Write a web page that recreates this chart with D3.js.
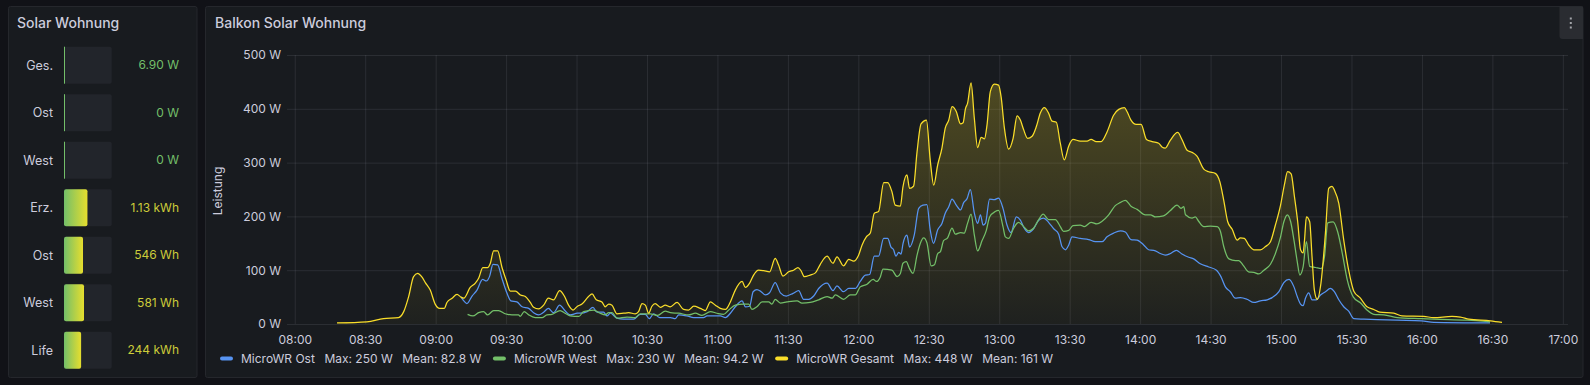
<!DOCTYPE html>
<html><head><meta charset="utf-8">
<script src="https://cdn.jsdelivr.net/npm/d3@7"></script>
<style>
html,body{margin:0;padding:0;background:#111217;overflow:hidden;}
svg{display:block;font-family:Inter,"Noto Sans",sans-serif;}
</style></head><body>
<svg id="c" width="1590" height="385"></svg>
<script>
// ---------- DATA ----------
const statLabels = ["Ges.", "Ost", "West", "Erz.", "Ost", "West", "Life"];
const statTexts  = ["6.90 W", "0 W", "0 W", "1.13 kWh", "546 Wh", "581 Wh", "244 kWh"];
const statValues = [6.9, 0, 0, 1.13, 546, 581, 244];
const statMax    = [800, 800, 800, 2.3, 1370, 1385, 680];

const xTickLabels = ["08:00","08:30","09:00","09:30","10:00","10:30","11:00","11:30","12:00","12:30","13:00","13:30","14:00","14:30","15:00","15:30","16:00","16:30","17:00"];
const yTickValues = [0,100,200,300,400,500];
const timeDomain = ["07:56.7", "17:02.2"];

const seriesNames = ["MicroWR Ost", "MicroWR West", "MicroWR Gesamt"];
const seriesMax   = ["250 W", "230 W", "448 W"];
const seriesMean  = ["82.8 W", "94.2 W", "161 W"];

// times as "HH:MM.m" (minutes with decimal), values in W
const ost = [["09:10.8",50],["09:12.0",43],["09:13.3",38],["09:15.5",52],["09:17.6",63],["09:20.0",83],["09:21.6",80],["09:23.0",89],["09:24.4",111],["09:26.4",110],["09:28.2",85],["09:30.4",57],["09:32.0",43],["09:34.6",41],["09:36.8",32],["09:39.6",29],["09:41.7",21],["09:43.8",17],["09:46.0",22],["09:48.0",29],["09:50.2",21],["09:52.8",35],["09:55.2",24],["09:57.3",17],["10:00.4",20],["10:01.6",20],["10:04.5",23],["10:07.0",31],["10:08.7",22],["10:11.5",22],["10:13.0",15],["10:14.4",20],["10:17.2",11],["10:20.0",9],["10:24.3",9],["10:27.1",18],["10:29.3",18],["10:31.0",10],["10:32.8",19],["10:35.4",12],["10:40.0",12],["10:42.0",10],["10:43.5",17],["10:47.0",15],["10:49.9",12],["10:54.1",12],["10:55.6",15],["11:01.2",15],["11:03.4",12],["11:05.5",20],["11:07.6",32],["11:10.5",43],["11:11.9",32],["11:13.7",33],["11:15.2",60],["11:16.8",64],["11:18.6",60],["11:20.4",54],["11:22.2",58],["11:24.6",77],["11:26.8",58],["11:29.3",52],["11:32.2",57],["11:34.6",62],["11:36.7",46],["11:38.9",46],["11:41.0",52],["11:43.1",66],["11:46.7",76],["11:49.2",62],["11:50.9",71],["11:53.7",60],["11:55.9",66],["11:58.7",66],["12:00.8",79],["12:03.0",91],["12:04.8",92],["12:06.8",126],["12:08.6",126],["12:10.8",159],["12:12.5",159],["12:13.9",143],["12:15.0",138],["12:16.0",126],["12:17.2",133],["12:18.2",130],["12:19.0",149],["12:20.7",165],["12:21.8",143],["12:23.8",165],["12:25.7",215],["12:27.5",221],["12:29.2",222],["12:30.6",175],["12:32.0",150],["12:33.8",175],["12:35.6",187],["12:37.0",206],["12:38.5",218],["12:39.9",232],["12:41.7",221],["12:43.5",212],["12:44.9",226],["12:46.3",233],["12:47.7",250],["12:49.4",206],["12:50.8",187],["12:52.0",203],["12:53.1",184],["12:54.1",187],["12:55.9",232],["12:57.9",231],["12:59.7",234],["13:01.6",215],["13:03.3",184],["13:05.0",170],["13:07.3",199],["13:09.0",193],["13:10.4",180],["13:12.5",170],["13:14.6",177],["13:16.8",193],["13:18.9",197],["13:21.0",189],["13:23.2",177],["13:25.3",167],["13:26.7",144],["13:28.2",138],["13:29.6",147],["13:31.0",162],["13:34.5",159],["13:38.1",157],["13:40.9",153],["13:43.8",153],["13:45.9",162],["13:48.7",169],["13:51.6",173],["13:53.7",171],["13:56.1",157],["13:58.7",156],["14:01.5",147],["14:03.6",138],["14:05.8",137],["14:08.6",131],["14:10.7",128],["14:12.9",131],["14:15.4",137],["14:17.8",130],["14:20.7",124],["14:22.8",121],["14:25.6",112],["14:29.2",106],["14:32.5",100],["14:34.4",88],["14:36.3",69],["14:38.4",60],["14:40.5",48],["14:42.7",49],["14:45.5",46],["14:48.4",40],["14:51.2",43],["14:54.1",45],["14:56.2",49],["14:59.1",60],["15:01.2",77],["15:03.4",83],["15:05.5",69],["15:06.9",51],["15:08.3",37],["15:09.4",34],["15:10.4",48],["15:11.8",58],["15:13.2",45],["15:15.0",45],["15:16.8",54],["15:18.9",60],["15:21.0",66],["15:22.7",60],["15:24.6",45],["15:26.7",32],["15:28.8",24],["15:31.0",10],["15:35.3",9],["15:41.0",8],["15:49.5",7],["15:59.8",6],["16:05.0",3],["16:29.0",2]];

const west = [["09:13.6",18],["09:15.9",15],["09:18.3",21],["09:20.4",23],["09:22.1",17],["09:24.7",25],["09:26.8",25],["09:29.6",19],["09:32.5",17],["09:35.3",17],["09:36.0",14],["09:37.7",23],["09:39.6",17],["09:42.4",12],["09:45.3",12],["09:47.4",17],["09:49.5",18],["09:53.0",25],["09:55.2",20],["09:57.3",15],["10:01.0",14],["10:03.0",23],["10:07.3",26],["10:10.0",20],["10:12.2",17],["10:13.7",21],["10:15.1",21],["10:17.2",11],["10:21.5",13],["10:25.0",12],["10:27.1",19],["10:31.4",19],["10:34.5",16],["10:37.8",24],["10:40.0",21],["10:43.5",20],["10:47.7",17],["10:50.6",20],["10:53.4",16],["10:57.0",23],["10:59.8",20],["11:02.6",18],["11:04.8",26],["11:07.6",35],["11:11.1",37],["11:13.3",37],["11:14.7",27],["11:16.8",32],["11:19.0",41],["11:21.8",41],["11:23.2",37],["11:24.6",46],["11:26.8",39],["11:29.6",41],["11:33.9",43],["11:36.0",39],["11:39.5",40],["11:43.1",45],["11:46.7",51],["11:48.8",48],["11:50.2",54],["11:53.7",46],["11:56.6",54],["11:58.7",54],["12:00.8",69],["12:03.7",74],["12:06.3",83],["12:07.7",79],["12:09.4",88],["12:10.5",102],["12:14.3",100],["12:16.5",88],["12:17.9",94],["12:19.0",113],["12:20.4",116],["12:21.8",103],["12:23.3",94],["12:25.0",128],["12:26.4",150],["12:27.8",160],["12:29.2",151],["12:31.0",108],["12:32.4",110],["12:33.8",131],["12:34.9",134],["12:36.3",155],["12:38.0",160],["12:39.9",178],["12:41.3",167],["12:43.5",170],["12:45.1",169],["12:46.5",187],["12:48.0",204],["12:49.4",165],["12:50.8",136],["12:52.7",155],["12:54.5",174],["12:55.9",199],["12:58.3",209],["12:59.7",211],["13:01.6",181],["13:02.6",162],["13:04.0",159],["13:06.1",178],["13:08.2",189],["13:10.4",181],["13:12.5",173],["13:14.6",178],["13:16.8",194],["13:18.7",204],["13:21.0",194],["13:23.9",194],["13:26.0",181],["13:27.4",172],["13:29.6",174],["13:31.4",183],["13:34.5",184],["13:36.2",181],["13:39.1",189],["13:41.6",186],["13:43.8",191],["13:46.6",203],["13:49.4",220],["13:51.6",226],["13:53.7",230],["13:56.1",219],["13:58.7",213],["14:02.2",203],["14:04.4",203],["14:06.5",199],["14:10.0",201],["14:12.9",211],["14:15.7",221],["14:17.4",215],["14:18.6",218],["14:19.3",203],["14:22.1",197],["14:23.5",199],["14:24.9",191],["14:27.1",181],["14:29.9",182],["14:32.8",181],["14:34.2",172],["14:35.6",144],["14:37.8",121],["14:40.6",118],["14:42.0",118],["14:43.9",109],["14:46.2",97],["14:48.4",96],["14:50.5",93],["14:52.7",100],["14:55.5",111],["14:57.6",131],["14:59.8",162],["15:01.2",190],["15:02.7",203],["15:04.1",190],["15:05.5",156],["15:06.9",116],["15:08.0",91],["15:09.4",106],["15:10.8",153],["15:12.2",107],["15:14.7",105],["15:17.1",103],["15:18.5",125],["15:19.9",188],["15:22.2",190],["15:24.2",170],["15:26.1",131],["15:28.2",82],["15:30.8",50],["15:33.9",39],["15:36.6",26],["15:39.5",18],["15:43.8",17],["15:49.5",12],["15:59.8",10],["16:05.0",9],["16:19.3",7],["16:29.0",4]];

const gesamt = [["08:18.0",2],["08:30.7",4],["08:37.8",10],["08:44.2",12],["08:46.4",23],["08:48.5",51],["08:50.6",88],["08:52.3",94],["08:54.2",87],["08:55.6",77],["08:57.7",63],["08:59.8",37],["09:01.7",29],["09:03.7",29],["09:04.8",40],["09:07.0",48],["09:09.1",55],["09:10.8",50],["09:12.0",48],["09:14.7",68],["09:16.9",76],["09:18.3",85],["09:20.1",105],["09:22.1",105],["09:23.3",113],["09:24.7",136],["09:26.4",136],["09:28.2",106],["09:30.0",82],["09:31.8",61],["09:34.0",61],["09:36.1",54],["09:38.2",51],["09:40.3",40],["09:41.7",31],["09:43.8",28],["09:46.0",35],["09:48.0",48],["09:50.2",45],["09:52.8",62],["09:54.8",52],["09:56.6",35],["09:58.5",26],["10:00.4",33],["10:02.3",37],["10:05.1",51],["10:06.6",56],["10:08.4",45],["10:10.8",41],["10:12.2",32],["10:13.7",37],["10:15.1",35],["10:17.2",19],["10:20.0",20],["10:22.2",21],["10:25.0",19],["10:26.4",23],["10:27.9",38],["10:29.3",35],["10:30.7",20],["10:32.1",33],["10:33.5",38],["10:35.7",31],["10:37.8",35],["10:39.9",32],["10:42.8",40],["10:45.6",27],["10:47.7",26],["10:49.9",33],["10:52.7",29],["10:54.8",25],["10:57.0",41],["10:59.1",35],["11:01.2",29],["11:03.4",27],["11:05.5",41],["11:07.6",63],["11:10.5",79],["11:11.9",68],["11:13.7",76],["11:15.4",91],["11:17.5",100],["11:19.7",99],["11:22.2",97],["11:24.6",122],["11:26.0",110],["11:27.9",89],["11:30.3",97],["11:32.4",100],["11:34.3",105],["11:35.6",99],["11:37.0",88],["11:39.5",91],["11:41.7",95],["11:43.8",111],["11:46.7",126],["11:49.2",113],["11:50.9",125],["11:53.7",108],["11:55.9",120],["11:58.0",117],["12:00.1",128],["12:01.6",147],["12:03.4",162],["12:05.1",169],["12:06.8",206],["12:08.6",209],["12:10.8",263],["12:12.5",263],["12:14.3",246],["12:15.7",221],["12:17.9",219],["12:19.0",255],["12:20.7",277],["12:21.8",252],["12:23.5",256],["12:25.0",320],["12:26.7",372],["12:29.0",379],["12:30.6",305],["12:32.1",258],["12:33.8",296],["12:35.6",327],["12:37.0",364],["12:38.5",379],["12:39.9",404],["12:41.7",395],["12:43.5",372],["12:44.6",374],["12:45.6",400],["12:46.5",410],["12:48.0",448],["12:49.4",382],["12:50.8",328],["12:52.3",347],["12:53.7",344],["12:54.8",370],["12:56.2",432],["12:57.9",446],["12:59.7",444],["13:00.8",422],["13:02.2",364],["13:04.0",325],["13:05.9",345],["13:07.6",387],["13:09.0",379],["13:10.4",361],["13:12.1",345],["13:14.0",349],["13:15.8",367],["13:17.5",392],["13:19.2",402],["13:21.0",392],["13:22.5",377],["13:24.3",375],["13:26.0",336],["13:27.7",305],["13:29.6",331],["13:31.4",343],["13:34.5",340],["13:37.4",340],["13:39.1",343],["13:41.3",339],["13:43.4",339],["13:45.9",357],["13:48.7",388],["13:50.9",399],["13:53.3",402],["13:54.4",395],["13:56.1",379],["13:58.3",371],["14:00.4",371],["14:02.7",343],["14:05.1",339],["14:07.9",336],["14:09.3",329],["14:10.7",327],["14:12.9",342],["14:16.0",356],["14:17.8",343],["14:20.0",323],["14:22.1",319],["14:24.2",312],["14:27.1",288],["14:29.2",283],["14:32.0",280],["14:33.9",265],["14:35.6",230],["14:37.3",190],["14:39.2",176],["14:41.3",156],["14:42.7",160],["14:44.4",159],["14:46.2",147],["14:48.4",138],["14:51.2",138],["14:53.4",144],["14:55.5",153],["14:57.6",184],["14:59.8",221],["15:01.4",258],["15:02.8",283],["15:04.3",279],["15:05.7",237],["15:07.1",190],["15:08.3",138],["15:09.4",132],["15:10.0",156],["15:10.8",199],["15:12.2",190],["15:13.2",125],["15:14.2",63],["15:15.4",46],["15:17.0",76],["15:18.9",169],["15:20.3",252],["15:21.7",256],["15:22.7",249],["15:24.6",224],["15:26.7",156],["15:28.8",100],["15:31.0",61],["15:33.8",48],["15:36.6",32],["15:39.5",27],["15:42.0",22],["15:48.0",20],["15:51.5",15],["16:00.8",14],["16:05.0",12],["16:12.8",14],["16:16.4",13],["16:20.0",9],["16:29.2",6],["16:34.1",3]];

const seriesData = [ost, west, gesamt];
const seriesColors = ["#5794F2", "#73BF69", "#FADE2A"];

// ---------- RENDER ----------
const toMin = s => { const p = s.split(":"); return (+p[0]) * 60 + (+p[1]); };
const svg = d3.select("#c");
const TEXT = "#ccccdc";
const defs = svg.append("defs");

// panels
svg.append("rect").attr("x", 8.5).attr("y", 6.5).attr("width", 188.5).attr("height", 371)
  .attr("rx", 2).attr("fill", "#181b1f").attr("stroke", "#25272c");
svg.append("rect").attr("x", 205.5).attr("y", 6.5).attr("width", 1377.5).attr("height", 371)
  .attr("rx", 2).attr("fill", "#181b1f").attr("stroke", "#25272c");

// titles
svg.append("text").attr("x", 17).attr("y", 28).attr("fill", TEXT)
  .attr("font-size", 14).attr("font-weight", 500).text("Solar Wohnung");
svg.append("text").attr("x", 215).attr("y", 28).attr("fill", TEXT)
  .attr("font-size", 14).attr("font-weight", 500).text("Balkon Solar Wohnung");

// menu button
svg.append("path")
  .attr("d", "M1559.5,6.5 H1583 V39 H1562.5 Q1559.5,39 1559.5,36 Z")
  .attr("fill", "#2a2c31");
[18.5, 23, 27.5].forEach(cy => svg.append("rect").attr("x", 1569.8).attr("y", cy - 1).attr("width", 2).attr("height", 2).attr("fill", "#a2a4a9"));

// ---------- stat bars ----------
const barX = 64, barW = 47.7, barH = 37, rowTop = 46.7, rowPitch = 47.5;
const grad = defs.append("linearGradient").attr("id", "bg").attr("x1", 0).attr("x2", 1).attr("y1", 0).attr("y2", 0);
grad.append("stop").attr("offset", 0).attr("stop-color", "#73BF69");
grad.append("stop").attr("offset", 1).attr("stop-color", "#E6DE2E");

statLabels.forEach((lab, i) => {
  const y0 = rowTop + i * rowPitch;
  const sc = d3.scaleLinear().domain([0, statMax[i]]).range([0, barW]);
  const fw = Math.max(1, sc(statValues[i]));
  const g = svg.append("g");
  g.append("rect").attr("x", barX).attr("y", y0).attr("width", barW).attr("height", barH)
    .attr("rx", 2).attr("fill", "#22252b");
  if (fw <= 1.5) {
    g.append("rect").attr("x", barX).attr("y", y0).attr("width", 1).attr("height", barH).attr("fill", "#73BF69");
  } else {
    g.append("rect").attr("x", barX).attr("y", y0).attr("width", fw).attr("height", barH)
      .attr("rx", 2).attr("fill", "url(#bg)");
  }
  g.append("text").attr("x", 53).attr("y", y0 + barH / 2).attr("dy", "0.35em")
    .attr("text-anchor", "end").attr("fill", TEXT).attr("font-size", 12.5).text(lab);
  g.append("text").attr("x", 179).attr("y", y0 + barH / 2).attr("dy", "0.35em")
    .attr("text-anchor", "end").attr("fill", i < 3 ? "#73BF69" : "#cccc3a")
    .attr("font-size", 12).text(statTexts[i]);
});

// ---------- time series ----------
const x = d3.scaleLinear().domain(timeDomain.map(toMin)).range([287, 1568]);
const y = d3.scaleLinear().domain([0, 500]).range([324, 55]);

const gridColor = "rgba(204,204,220,0.11)";
const yAxis = svg.append("g").attr("transform", "translate(287,0)")
  .call(d3.axisLeft(y).tickValues(yTickValues).tickFormat(d => d + " W")
    .tickSize(-(1568 - 287)).tickPadding(6));
yAxis.select(".domain").remove();
yAxis.selectAll("line").attr("stroke", gridColor);
yAxis.selectAll("text").attr("fill", TEXT).attr("font-size", 12).attr("font-family", "Inter");

const xAxis = svg.append("g").attr("transform", "translate(0,324)")
  .call(d3.axisBottom(x).tickValues(xTickLabels.map(toMin)).tickFormat((d, i) => xTickLabels[i])
    .tickSize(-(324 - 55)).tickPadding(11));
xAxis.select(".domain").remove();
xAxis.selectAll("line").attr("stroke", gridColor);
xAxis.selectAll("text").attr("fill", TEXT).attr("font-size", 12).attr("font-family", "Inter");

svg.append("text").attr("transform", "translate(218,191) rotate(-90)")
  .attr("text-anchor", "middle").attr("dy", "0.35em").attr("fill", TEXT).attr("font-size", 12)
  .text("Leistung");

// area fill for Gesamt
const gmax = d3.max(gesamt, d => d[1]);
const ag = defs.append("linearGradient").attr("id", "ag").attr("gradientUnits", "userSpaceOnUse")
  .attr("x1", 0).attr("x2", 0).attr("y1", y(gmax)).attr("y2", y(0));
ag.append("stop").attr("offset", 0).attr("stop-color", "#FADE2A").attr("stop-opacity", 0.24);
ag.append("stop").attr("offset", 1).attr("stop-color", "#FADE2A").attr("stop-opacity", 0.03);

const curve = d3.curveMonotoneX;
svg.append("path").datum(gesamt)
  .attr("d", d3.area().x(d => x(toMin(d[0]))).y0(y(0)).y1(d => y(d[1])).curve(curve))
  .attr("fill", "url(#ag)");

seriesData.forEach((s, i) => {
  svg.append("path").datum(s)
    .attr("d", d3.line().x(d => x(toMin(d[0]))).y(d => y(d[1])).curve(curve))
    .attr("fill", "none").attr("stroke", seriesColors[i]).attr("stroke-width", 1.25)
    .attr("stroke-linejoin", "round");
});

// ---------- legend ----------
let lx = 220;
const ly = 358.5;
seriesNames.forEach((n, i) => {
  svg.append("rect").attr("x", lx).attr("y", ly - 2).attr("width", 13).attr("height", 4)
    .attr("rx", 2).attr("fill", seriesColors[i]);
  lx += 21;
  [n, "Max: " + seriesMax[i], "Mean: " + seriesMean[i]].forEach((t, j) => {
    const tx = svg.append("text").attr("x", lx).attr("y", ly).attr("dy", "0.35em")
      .attr("fill", TEXT).attr("font-size", 12).text(t);
    lx += tx.node().getComputedTextLength() + 9.5;
  });
  lx += 2;
});
</script>
</body></html>
